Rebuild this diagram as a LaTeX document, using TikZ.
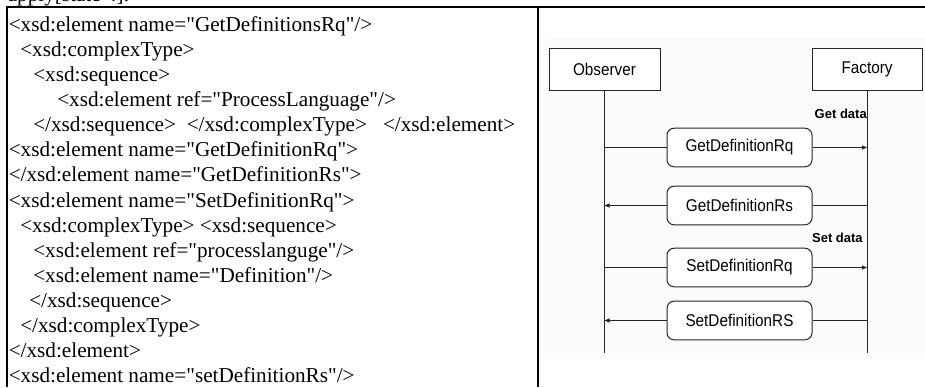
\documentclass[tikz,border=0pt]{standalone}
\usepackage{fontspec}
\usepackage{graphicx}
\setmainfont{Liberation Serif}[Ligatures=TeXOff]
\newfontfamily\dfont{Liberation Sans}
\usetikzlibrary{arrows.meta}
\begin{document}
\begin{tikzpicture}[x=0.75pt,y=-0.75pt,
  code/.style={anchor=base west,inner sep=0pt,font=\fontsize{15.9pt}{19pt}\selectfont},
  rule/.style={line width=1.5pt,black},
  life/.style={line width=0.75pt,black!85},
  actor/.style={draw=black!85,line width=0.75pt,fill=white,inner sep=0pt,
    minimum height=31.5pt,font=\dfont\fontsize{12.75pt}{14pt}\selectfont},
  msg/.style={draw=black!85,line width=0.75pt,fill=white,rounded corners=5.25pt,inner sep=0pt,
    minimum width=108.75pt,minimum height=28.9pt,font=\dfont\fontsize{12.75pt}{14pt}\selectfont},
  datalbl/.style={anchor=base east,inner sep=0pt,font=\dfont\bfseries\fontsize{9.75pt}{11pt}\selectfont},
  tip/.style={-{Triangle[length=3.75pt,width=3pt]}}
]
\useasboundingbox (0,0) rectangle (925,387);
\clip (0,0) rectangle (925,387);

% text above the table, cut by the page edge
\node[code] (top) at (7.5,1.5) {apply[state 4].};

% table rules
\draw[rule] (6.25,7) -- (925,7);
\draw[rule] (7,6.25) -- (7,387);
\draw[rule] (538,7) -- (538,387);

% left column: XML schema text
\node[code] (t1)  at (8.5, 31.5)  {<xsd:element name="GetDefinitionsRq"/>};
\node[code] (t2)  at (20,  56.6)  {<xsd:complexType>};
\node[code] (t3)  at (33,  81.6)  {<xsd:sequence>};
\node[code] (t4)  at (57, 106.7)  {<xsd:element ref="ProcessLanguage"/>};
\node[code] (t5)  at (33, 131.8)  {</xsd:sequence>\hspace{8pt}</xsd:complexType>\hspace{12pt}</xsd:element>};
\node[code] (t6)  at (8.5,156.9)  {<xsd:element name="GetDefinitionRq">};
\node[code] (t7)  at (8.5,181.9)  {</xsd:element name="GetDefinitionRs">};
\node[code] (t8)  at (8.5,207.0)  {<xsd:element name="SetDefinitionRq">};
\node[code] (t9)  at (20, 232.1)  {<xsd:complexType> <xsd:sequence>};
\node[code] (t10) at (33, 257.2)  {<xsd:element ref="processlanguge"/>};
\node[code] (t11) at (33, 282.2)  {<xsd:element name="Definition"/>};
\node[code] (t12) at (29, 307.3)  {</xsd:sequence>};
\node[code] (t13) at (20, 332.4)  {</xsd:complexType>};
\node[code] (t14) at (8.5,357.5)  {</xsd:element>};
\node[code] (t15) at (8.5,382.5)  {<xsd:element name="setDefinitionRs"/>};

% right column: sequence diagram picture
\fill[gray!3] (545,38) rectangle (925,353);

\node[actor,minimum width=83.25pt] (obs) at (604.5,69) {\scalebox{0.9}[1]{Observer}};
\node[actor,minimum width=82.5pt]  (fac) at (867,69)   {\scalebox{0.9}[1]{Factory}};
\coordinate (oend) at (604.5,353);
\coordinate (fend) at (867,353);
\draw[life] (obs.south) -- (oend);
\draw[life] (fac.south) -- (fend);

\node[msg] (m1) at (739.5,147.5) {\scalebox{0.9}[1]{GetDefinitionRq}};
\node[msg] (m2) at (739.5,205.5) {\scalebox{0.9}[1]{GetDefinitionRs}};
\node[msg] (m3) at (739.5,267.5) {\scalebox{0.9}[1]{SetDefinitionRq}};
\node[msg] (m4) at (739.5,320.5) {\scalebox{0.9}[1]{SetDefinitionRS}};

\node[datalbl] (gd) at (867,118) {Get data};
\node[datalbl] (sd) at (863,242) {Set data};

\draw[life] (obs.south |- m1.west) -- (m1.west);
\draw[life,tip] (m1.east) -- (m1.east -| fac.south);
\draw[life,tip] (m2.west) -- (m2.west -| obs.south);
\draw[life] (m2.east) -- (m2.east -| fac.south);
\draw[life] (obs.south |- m3.west) -- (m3.west);
\draw[life,tip] (m3.east) -- (m3.east -| fac.south);
\draw[life,tip] (m4.west) -- (m4.west -| obs.south);
\draw[life] (m4.east) -- (m4.east -| fac.south);
\end{tikzpicture}
\end{document}
